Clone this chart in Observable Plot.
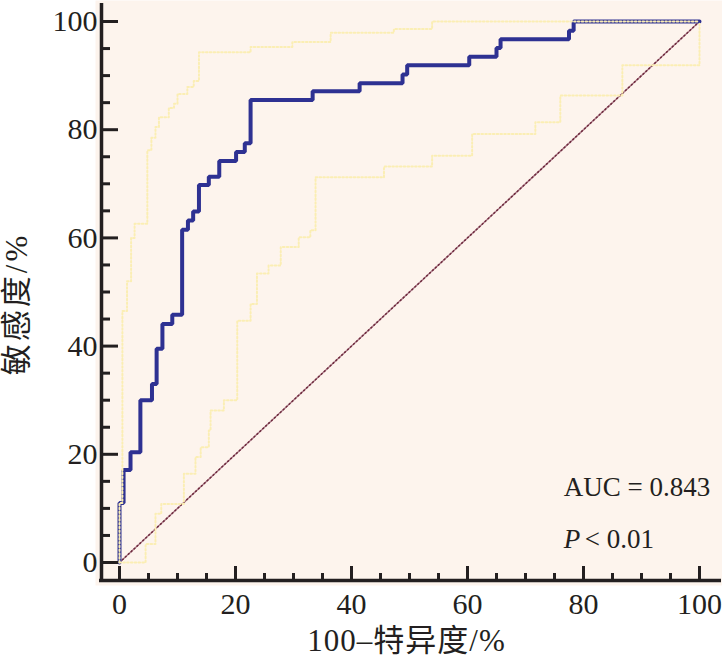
<!DOCTYPE html>
<html>
<head>
<meta charset="utf-8">
<script src="https://cdn.jsdelivr.net/npm/d3@7"></script>
<script src="https://cdn.jsdelivr.net/npm/@observablehq/plot@0.6"></script>
<style>
  html, body { margin: 0; padding: 0; background: #ffffff; }
  #chart svg { display: block; }
</style>
</head>
<body>
<div id="chart"></div>
<script>
// ROC curve (100 - specificity, sensitivity), step vertices
const rocFpr = [0, 0, 0.7, 1.9, 3.6, 5.6, 6.4, 7.4, 9.1, 10.8, 11.8, 12.7, 13.7, 15.4, 17.2, 20.1, 21.6, 22.6, 33.3, 41.4, 48.8, 49.6, 60.3, 65.0, 65.7, 77.5, 78.3, 100];
const rocTpr = [0, 11.0, 17.1, 20.4, 30.0, 33.0, 39.5, 44.1, 45.8, 61.5, 63.2, 64.9, 69.8, 71.3, 74.2, 75.9, 77.5, 85.5, 87.1, 88.6, 90.2, 91.9, 93.5, 95.1, 96.7, 98.3, 100, 100];

// Upper 95% confidence bound
const upperFpr = [0, 0, 0.5, 1.3, 2.0, 2.6, 4.8, 5.5, 6.2, 6.8, 8.5, 9.4, 10.0, 11.7, 12.8, 13.7, 22.6, 29.8, 36.4, 47.3, 53.9, 100];
const upperTpr = [0, 11.0, 46.5, 52.0, 60.0, 62.6, 76.2, 78.5, 80.5, 82.3, 84.0, 84.8, 86.6, 87.9, 89.0, 94.3, 95.3, 96.2, 97.9, 98.6, 100, 100];

// Lower 95% confidence bound
const lowerFpr = [0, 4.5, 6.2, 7.2, 11.1, 13.1, 14.0, 15.4, 15.7, 18.0, 20.3, 22.6, 23.7, 23.7, 25.7, 27.8, 30.9, 32.9, 33.8, 45.6, 53.9, 60.8, 71.7, 76.0, 86.7, 100, 100];
const lowerTpr = [0, 3.4, 9.0, 10.8, 16.4, 19.5, 21.3, 24.4, 28.1, 30.0, 44.7, 47.8, 49.0, 53.4, 54.9, 58.3, 60.1, 61.4, 71.2, 73.2, 75.2, 79.2, 81.4, 86.3, 91.9, 91.9, 100];

// Reference (chance) line
const refX = [0, 100];
const refY = [0, 100];

// Axis ticks
const majorTicks = [0, 20, 40, 60, 80, 100];
const minorTicks = [5, 10, 15, 25, 30, 35, 45, 50, 55, 65, 70, 75, 85, 90, 95];

// Texts
const xTitle = "100–特异度/%";
const yTitle = "敏感度/%";
const aucText = "AUC = 0.843";
const pLetter = "P";
const pRest = "< 0.01";
const annX = [76.6];

const toPts = (xs, ys) => xs.map((x, i) => ({x, y: ys[i]}));
const roc = toPts(rocFpr, rocTpr);
const upper = toPts(upperFpr, upperTpr);
const lower = toPts(lowerFpr, lowerTpr);
const ref = toPts(refX, refY);

const ink = "#231f20";
const ciColor = "#fbeeb4";
const serif = "'Liberation Serif', 'Times New Roman', 'Noto Sans CJK SC', serif";

const W = 722, H = 658, ML = 119, MR = 23, MT = 21, MB = 96;
const FW = W - ML - MR;   // frame width in px
const FH = H - MT - MB;   // frame height in px
const AX = 18;            // axis offset from the data frame (px)

const chart = Plot.plot({
  width: W,
  height: H,
  marginLeft: ML,
  marginRight: MR,
  marginTop: MT,
  marginBottom: MB,
  style: {fontFamily: serif, background: "#ffffff", color: ink, overflow: "visible"},
  x: {domain: [0, 100], axis: null},
  y: {domain: [0, 100], axis: null},
  marks: [
    Plot.frame({fill: "#fdf4ed", stroke: null, insetLeft: -24, insetRight: -23, insetTop: -21, insetBottom: -23}),
    Plot.line(ref, {x: "x", y: "y", stroke: "#b07f8e", strokeWidth: 1.5}),
    Plot.line(ref, {x: "x", y: "y", stroke: "#6d2a3c", strokeWidth: 1.5, strokeDasharray: "1,3"}),
    Plot.line(roc, {x: "x", y: "y", curve: "step-after", stroke: "#2e3192", strokeWidth: 4, strokeLinejoin: "miter"}),
    Plot.line(upper, {x: "x", y: "y", curve: "step-after", stroke: ciColor, strokeWidth: 2, strokeDasharray: "1.6,2.2"}),
    Plot.line(lower, {x: "x", y: "y", curve: "step-after", stroke: ciColor, strokeWidth: 2, strokeDasharray: "1.6,2.2"}),
    // axis lines (offset from the data frame)
    Plot.ruleX([0], {x: d => d, dx: -AX, insetTop: -AX, insetBottom: -AX, stroke: ink, strokeWidth: 3.5}),
    Plot.ruleY([0], {y: d => d, dy: AX, insetLeft: -AX - 2, insetRight: -22, stroke: ink, strokeWidth: 3.5}),
    // y axis ticks (pointing inward) & labels
    Plot.ruleY(minorTicks, {y: d => d, insetLeft: -AX, insetRight: FW + AX - 9, stroke: ink, strokeWidth: 3}),
    Plot.ruleY(majorTicks, {y: d => d, insetLeft: -AX, insetRight: FW + AX - 17, stroke: ink, strokeWidth: 3}),
    Plot.text(majorTicks, {y: d => d, text: d => String(d), frameAnchor: "left", dx: -22, textAnchor: "end", lineAnchor: "middle", fontSize: 30, fill: ink}),
    // x axis ticks (pointing inward) & labels
    Plot.ruleX(minorTicks, {x: d => d, insetBottom: -AX, insetTop: FH + AX - 7, stroke: ink, strokeWidth: 3}),
    Plot.ruleX(majorTicks, {x: d => d, insetBottom: -AX, insetTop: FH + AX - 14, stroke: ink, strokeWidth: 3}),
    Plot.text(majorTicks, {x: d => d, text: d => String(d), frameAnchor: "bottom", dy: 30, textAnchor: "middle", lineAnchor: "top", fontSize: 30, fill: ink}),
    // axis titles
    Plot.text([yTitle], {text: d => d, frameAnchor: "left", rotate: -90, dx: -102, dy: 12, fontSize: 31, fill: ink, textAnchor: "middle", lineAnchor: "middle"}),
    Plot.text([xTitle], {text: d => d, frameAnchor: "bottom", dx: -3, dy: 79, fontSize: 31, fill: ink, textAnchor: "middle", lineAnchor: "middle"}),
    // annotations
    Plot.text(annX, {x: d => d, y: [13.8], text: [aucText], textAnchor: "start", fontSize: 27, fill: ink}),
    Plot.text(annX, {x: d => d, y: [4.2], text: [pLetter], textAnchor: "start", fontSize: 27, fontStyle: "italic", fill: ink}),
    Plot.text(annX, {x: d => d, y: [4.2], text: [pRest], textAnchor: "start", dx: 21, fontSize: 27, fill: ink})
  ]
});
// widen the spacing of the axis titles as in the reference
d3.select(chart).selectAll("text")
  .filter(function() { return this.textContent === yTitle; })
  .style("letter-spacing", "3px");
d3.select(chart).selectAll("text")
  .filter(function() { return this.textContent === xTitle; })
  .style("letter-spacing", "1px");
document.getElementById("chart").appendChild(chart);
</script>
</body>
</html>
